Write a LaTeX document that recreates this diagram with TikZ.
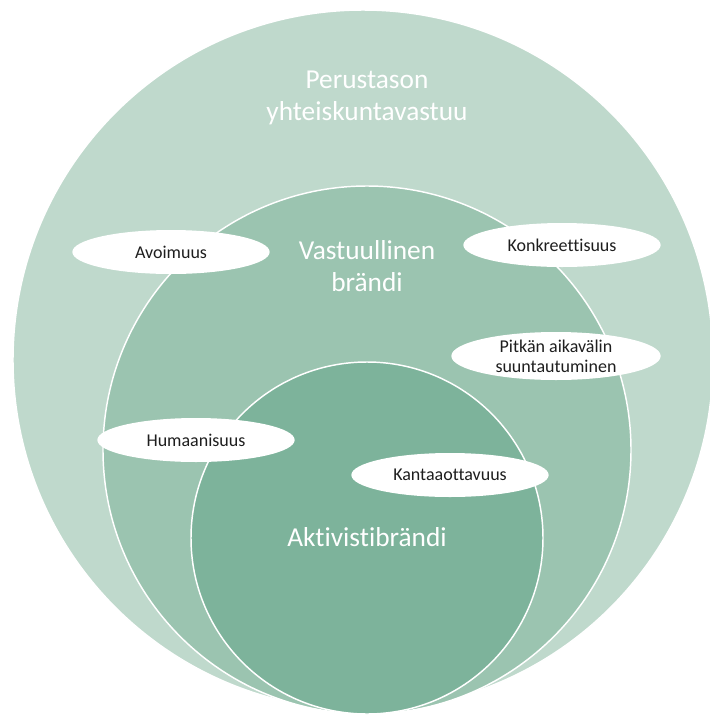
\documentclass[tikz,border=0pt]{standalone}
\usepackage{fontspec}
\setmainfont[Ligatures={NoCommon}]{Carlito}
\usetikzlibrary{shapes.geometric}

\definecolor{outerclr}{RGB}{191,217,204}
\definecolor{midclr}{RGB}{155,196,176}
\definecolor{innerclr}{RGB}{125,179,155}
\definecolor{textclr}{RGB}{30,30,30}

\begin{document}
\begin{tikzpicture}[
    x=0.75pt, y=-0.75pt,
    ring/.style={draw=white, line width=1.1pt},
    title/.style={text=white, align=center, font=\fontsize{20.5}{24}\selectfont},
    blob/.style={ellipse, fill=white, inner sep=0pt, minimum width=148pt,
                 minimum height=33pt, align=center, text=textclr,
                 font=\fontsize{13.5}{15}\selectfont}
]
\useasboundingbox (0,0) rectangle (710,715);

% Circles
\draw[ring, fill=outerclr] (363,360) circle[radius=350];
\draw[ring, fill=midclr] (367,450) circle[radius=264];
\draw[ring, fill=innerclr] (367,538) circle[radius=176];

% Circle titles
\node[title] (perus) at (367,98) {Perustason\\yhteiskuntavastuu};
\node[title] (vastuu) at (367,266) {Vastuullinen\\brändi};
\node[title] (aktiv) at (367,537) {Aktivistibrändi};

% Values
\node[blob] (avoin) at (171,252) {Avoimuus};
\node[blob] (konkr) at (562,245) {Konkreettisuus};
\node[blob, minimum width=157pt, minimum height=36pt] (pitka) at (556,356)
    {Pitkän aikavälin\\suuntautuminen};
\node[blob] (human) at (196,440) {Humaanisuus};
\node[blob] (kanta) at (450,475) {Kantaaottavuus};
\end{tikzpicture}
\end{document}
